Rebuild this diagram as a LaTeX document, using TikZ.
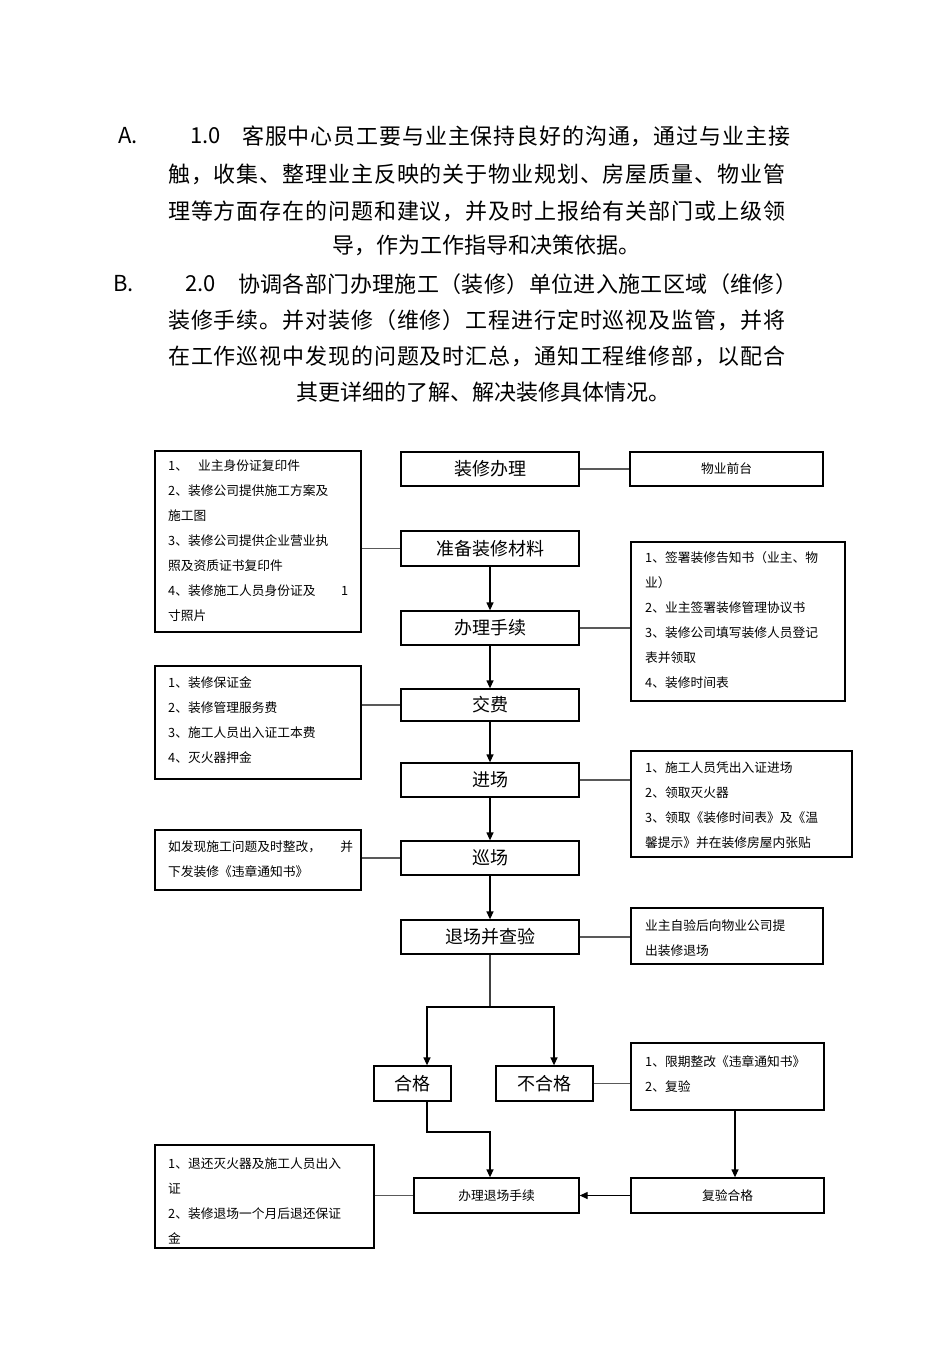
\documentclass[tikz,border=0pt]{standalone}
\usepackage{fontspec}
\setmainfont{Noto Sans CJK SC}
\usetikzlibrary{arrows.meta}
\ExplSyntaxOn
\NewDocumentCommand\jl{mm}{\hbox~to~#1{\tl_map_inline:nn{#2}{##1\hfil}\unskip}}
\ExplSyntaxOff
\tikzset{
  big/.style={font=\fontsize{22}{26}\selectfont, inner sep=0pt, anchor=west},
  mainbox/.style={draw, line width=1.3pt, inner sep=0pt, font=\fontsize{18}{21}\selectfont},
  smallbox/.style={draw, line width=1.3pt, inner sep=0pt, font=\fontsize{12.75}{15}\selectfont},
  sidebox/.style={draw, line width=1.3pt, inner sep=0pt},
  sidetext/.style={inner sep=0pt, anchor=north west, align=left, font=\fontsize{12.75}{25}\selectfont},
  link/.style={draw=black!65, line width=1.3pt},
  arr/.style={draw=black, line width=1.3pt, -{Triangle[length=8pt,width=7pt]}},
  branch/.style={draw=black!75, line width=1.3pt}
}
\begin{document}
\begin{tikzpicture}[x=1pt,y=-1pt]
\fill[white] (0,0) rectangle (950,1346);
\useasboundingbox (0,0) rectangle (950,1346);

% ---- paragraph A
\node[big] (pa0) at (118,136) {A.};
\node[big] (pa0n) at (190,136) {1.0};
\node[big] (pa1) at (242,136) {\jl{548pt}{客服中心员工要与业主保持良好的沟通，通过与业主接}};
\node[big] (pa2) at (168,174) {\jl{617pt}{触，收集、整理业主反映的关于物业规划、房屋质量、物业管}};
\node[big] (pa3) at (168,211) {\jl{617pt}{理等方面存在的问题和建议，并及时上报给有关部门或上级领}};
\node[big, anchor=center] (pa4) at (486,245) {导，作为工作指导和决策依据。};
% ---- paragraph B
\node[big] (pb0) at (113,284) {B.};
\node[big] (pb0n) at (185,284) {2.0};
\node[big] (pb1) at (238,284) {\jl{559pt}{协调各部门办理施工（装修）单位进入施工区域（维修）}};
\node[big] (pb2) at (168,320) {\jl{617pt}{装修手续。并对装修（维修）工程进行定时巡视及监管，并将}};
\node[big] (pb3) at (168,356) {\jl{617pt}{在工作巡视中发现的问题及时汇总，通知工程维修部，以配合}};
\node[big, anchor=center] (pb4) at (483,392) {其更详细的了解、解决装修具体情况。};

% ---- main column
\node[mainbox, minimum width=178pt, minimum height=34pt] (zxbl) at (490,469) {装修办理};
\node[mainbox, minimum width=178pt, minimum height=35pt] (zbcl) at (490,548.5) {准备装修材料};
\node[mainbox, minimum width=178pt, minimum height=34pt] (blsx) at (490,628) {办理手续};
\node[mainbox, minimum width=178pt, minimum height=32pt] (jf) at (490,705) {交费};
\node[mainbox, minimum width=178pt, minimum height=34pt] (jc) at (490,780) {进场};
\node[mainbox, minimum width=178pt, minimum height=34pt] (xc) at (490,858) {巡场};
\node[mainbox, minimum width=178pt, minimum height=34pt] (tc) at (490,937) {退场并查验};
\node[mainbox, minimum width=77pt, minimum height=35pt] (hg) at (412.5,1083.5) {合格};
\node[mainbox, minimum width=97pt, minimum height=35pt] (bhg) at (544.5,1083.5) {不合格};
\node[smallbox, minimum width=165pt, minimum height=35pt] (bltc) at (496.5,1195.5) {办理退场手续};
\node[smallbox, minimum width=193pt, minimum height=35pt] (fyhg) at (727.5,1195.5) {复验合格};
\node[smallbox, minimum width=193pt, minimum height=34pt] (wyqt) at (726.5,469) {物业前台};

% ---- side boxes
\node[sidebox, minimum width=206pt, minimum height=181pt] (d1) at (258,541.5) {};
\node[sidetext] (d1t) at (168,459.5) {1、\hspace{0.8em}业主身份证复印件\\2、装修公司提供施工方案及\\施工图\\3、装修公司提供企业营业执\\照及资质证书复印件\\4、装修施工人员身份证及\hspace{2em}1\\寸照片};
\node[sidebox, minimum width=214pt, minimum height=159pt] (d2) at (738,621.5) {};
\node[sidetext] (d2t) at (645,551.5) {1、签署装修告知书（业主、物\\业）\\2、业主签署装修管理协议书\\3、装修公司填写装修人员登记\\表并领取\\4、装修时间表};
\node[sidebox, minimum width=206pt, minimum height=113pt] (d3) at (258,722.5) {};
\node[sidetext] (d3t) at (168,676.5) {1、装修保证金\\2、装修管理服务费\\3、施工人员出入证工本费\\4、灭火器押金};
\node[sidebox, minimum width=221pt, minimum height=106pt] (d4) at (741.5,804) {};
\node[sidetext] (d4t) at (645,761.5) {1、施工人员凭出入证进场\\2、领取灭火器\\3、领取《装修时间表》及《温\\馨提示》并在装修房屋内张贴};
\node[sidebox, minimum width=206pt, minimum height=60pt] (d5) at (258,860) {};
\node[sidetext] (d5t) at (168,840.5) {如发现施工问题及时整改，\hspace{1.5em}并\\下发装修《违章通知书》};
\node[sidebox, minimum width=192pt, minimum height=56pt] (d6) at (727,936) {};
\node[sidetext] (d6t) at (645,919.5) {业主自验后向物业公司提\\出装修退场};
\node[sidebox, line width=2pt, minimum width=193pt, minimum height=67pt] (d7) at (727.5,1076.5) {};
\node[sidetext] (d7t) at (645,1055.5) {1、限期整改《违章通知书》\\2、复验};
\node[sidebox, minimum width=219pt, minimum height=103pt] (d8) at (264.5,1196.5) {};
\node[sidetext] (d8t) at (168,1157.5) {1、退还灭火器及施工人员出入\\证\\2、装修退场一个月后退还保证\\金};

% ---- helper coordinates
\coordinate (br) at (490,1007);
\coordinate (brl) at (427,1007);
\coordinate (brr) at (554,1007);
\coordinate (jn) at (427,1132);
\coordinate (jm) at (490,1132);
\coordinate (fx) at (735,0);

% ---- side links
\draw[link] (zxbl.east) -- (wyqt.west);
\draw[link] (d1.east |- zbcl.west) -- (zbcl.west);
\draw[link] (blsx.east) -- (blsx.east -| d2.west);
\draw[link] (d3.east |- jf.west) -- (jf.west);
\draw[link] (jc.east) -- (jc.east -| d4.west);
\draw[link] (d5.east |- xc.west) -- (xc.west);
\draw[link] (tc.east) -- (tc.east -| d6.west);
\draw[link] (bhg.east) -- (bhg.east -| d7.west);
\draw[link] (d8.east |- bltc.west) -- (bltc.west);

% ---- main arrows
\draw[arr] (zbcl.south) -- (blsx.north);
\draw[arr] (blsx.south) -- (jf.north);
\draw[arr] (jf.south) -- (jc.north);
\draw[arr] (jc.south) -- (xc.north);
\draw[arr] (xc.south) -- (tc.north);
\draw[branch] (tc.south) -- (br);
\draw[arr] (br) -- (brl) -- (hg.north -| brl);
\draw[arr] (br) -- (brr) -- (bhg.north -| brr);
\draw[arr] (hg.south -| jn) -- (jn) -- (jm) -- (bltc.north -| jm);
\draw[arr] (d7.south -| fx) -- (fyhg.north -| fx);
\draw[arr] (fyhg.west) -- (bltc.east);
\end{tikzpicture}
\end{document}
